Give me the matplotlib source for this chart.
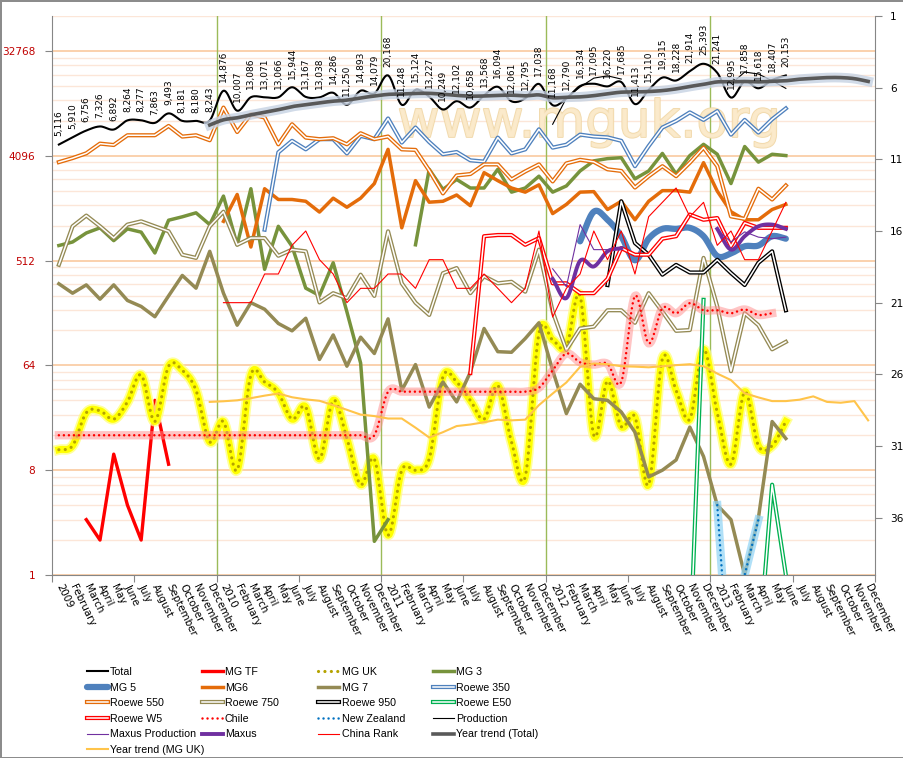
import numpy as np
import matplotlib
matplotlib.use("Agg")
import matplotlib.pyplot as plt
import matplotlib.patheffects as pe
from matplotlib.ticker import NullFormatter

N = np.nan
n_months = 60
years = ["2009", "2010", "2011", "2012", "2013"]
month_names = ["February", "March", "April", "May", "June", "July", "August",
               "September", "October", "November", "December"]
x_labels = []
for yr in years:
    x_labels += [yr] + month_names

# monthly values (first value sits at index "start")
total = (0, [5116, 5910, 6756, 7326, 6892, 8264, 8277, 7863, 9493, 8181, 8180, 8243,
             14876, 10007, 13086, 13071, 13066, 15944, 13167, 13038, 14286, 11250, 14893, 14079,
             20168, 11248, 15124, 13227, 10249, 12102, 10658, 13568, 16094, 12061, 12795, 17038,
             11168, 12790, 16334, 17095, 16220, 17685, 11413, 15110, 19315, 18228, 21914, 25393,
             21241, 12995, 17858, 15618, 18407, 20153])
mg_tf = (2, [3, 2, 11, 4, 2, 32, 9])
mg_uk = (0, [12, 13, 25, 26, 22, 31, 53, 21, 63, 58, 39, 14,
             21, 8, 53, 46, 37, 22, 28, 10, 32, 15, 6, 10,
             2.2, 8, 8, 10, 51, 46, 32, 22, 43, 14, 7, 121,
             106, 92, 254, 16, 47, 19, 23, 6, 73, 39, 22, 88,
             25, 9, 38, 13, 13, 21])
mg3 = (0, [690, 740, 885, 980, 760, 960, 900, 595, 1140, 1220, 1320, 1045,
           1840, 700, 2130, 430, 1010, 680, 296, 256, 490, 185, 67, 1.95,
           3, N, 700, 3130, 2100, 2560, 2160, 2160, 3130, 1990, 2160, 2730,
           1990, 2250, 3030, 3700, 3870, 3940, 2590, 3030, 4290, 2850, 4110, 5140,
           4220, 2360, 4920, 3610, 4220, 4110])
mg5 = (38, [750, 1350, 1150, 830, 515, 790, 960, 960, 980, 830, 560, 590, 680, 690, 830, 790])
mg6 = (12, [1115, 1900, 670, 2130, 1720, 1720, 1660, 1340, 1765, 1475, 1765, 2360,
            4650, 980, 2500, 1630, 1660, 1880, 1520, 2930, 2500, 2160, 1990, 2300,
            1300, 1560, 1990, 2010, 1410, 1660, 1150, 1660, 2050, 2050, 1990, 3570,
            2030, 1350, 1150, 1150, 1410, 1560])
mg7 = (0, [323, 268, 316, 238, 316, 232, 206, 168, 254, 381, 296, 615,
           268, 142, 222, 195, 147, 127, 163, 72, 117, 63, 112, 81,
           161, 39, 65, 28, 46, 31, 56, 133, 84, 83, 109, 149,
           58, 24.6, 44, 33, 32, 25.4, 17, 7, 8, 9.8, 18.8, 10.5,
           4, 3, 1, 3.1, 21, 15])
roewe350 = (15, [945, 4380, 5510, 4650, 5690, 5690, 4290, 6070, 5690,
                 8580, 5320, 7170, 5380, 4220, 4410, 3740, 3650, 5870, 4290, 4650, 6920,
                 4810, 5100, 6230, 6000, 5900, 5510, 3330, 4970, 7170, 8170, 9680, 8340,
                 9940, 6230, 8340, 6490, 8450, 10470])
roewe550 = (0, [3610, 3910, 4300, 5210, 5070, 6150, 6150, 6150, 7400, 5990, 6150, 5570,
                10650, 6560, 9330, 8750, 5140, 7650, 5870, 5690, 5800, 5140, 6400, 5690,
                6000, 4650, 4600, 3060, 1940, 2770, 2850, 3450, 3450, 2560, 3000, 3450,
                2460, 3520, 3780, 3630, 3130, 3030, 2180, 2730, 3330, 2730, 3570, 4810,
                3330, 1230, 1170, 2130, 1720, 2270])
roewe750 = (0, [471, 1010, 1250, 1010, 800, 1045, 1115, 1010, 915, 575, 540, 1010,
                1350, 700, 800, 800, 563, 636, 615, 223, 268, 243, 387, 254,
                915, 326, 222, 174, 398, 441, 268, 375, 326, 336, 276, 636,
                186, 87, 133, 138, 191, 191, 149, 268, 186, 127, 129, 540,
                206, 57, 180, 142, 88, 102])
roewe950 = (40, [315, 1660, 725, 575, 387, 470, 404, 404, 520, 400, 315, 490, 615, 191])
roewe_e50 = (46, [0.2, 235, N, N, N, 0.2, 6, 1])
roewe_w5 = (30, [55, 830, 850, 850, 700, 800, 326, 326, 268, 268, 356, 655,
                 575, 575, 790, 830, 1275, 1150, 1190, 680, 1080, 980, 980, 980])
chile = (0, [16, 16, 16, 16, 16, 16, 16, 16, 16, 16, 16, 16,
             16, 16, 16, 16, 16, 16, 16, 16, 16, 16, 16, 16,
             38, 38, 38, 38, 38, 38, 38, 38, 38, 38, 38, 41,
             58, 81, 68, 65, 66, 46, 254, 99, 199, 180, 220, 191,
             191, 180, 194, 174, 180])
new_zealand = (48, [4, 0.08, 1, 3])
production = (36, [7650, 12850, 16000, 19100, 20000, 18760, N, N, N, N, N, N,
                   N, 16970, 21560, 20730, 18140, 15590])
maxus_prod = (36, [435, 305, 1045, 636, 636, 636, N, N, N, N, N, N,
                   945, 740, 905, 815, 790, 815])
maxus = (36, [356, 243, 510, 455, 615, 655, N, N, N, N, N, N,
              960, 636, 830, 1010, 1045, 960])
china_rank = (12, [21, 21, 21, 19, 19, 17, 16, 18, 19, 21, 20, 20,
                   19, 19, 20, 18, 18, 20, 20, 19, 20, 21, 20, 16,
                   22, 20, 19, 16, 18, 16, 19, 15, 14, 13, 15, 14,
                   17, 16, 18, 18, 16, 14])
trend_total = (11, [7542, 8355, 8697, 9224, 9703, 10217, 10857, 11265, 11696, 12095, 12351, 12911, 13397,
                    13838, 13941, 14111, 14124, 13889, 13569, 13360, 13404, 13555, 13623, 13448, 13694,
                    12944, 13073, 13174, 13496, 13994, 14459, 14522, 14650, 14919, 15433, 16193, 16889,
                    17728, 17745, 17872, 17749, 17931, 18137, 18700, 19000, 19300, 19300, 18900, 17900])
trend_uk = (11, [31, 31.4, 32, 33.4, 35.1, 36.6, 34, 32.6, 31.7, 29.1, 26.5, 24.1, 23.4,
                 22.3, 22.3, 18.6, 15.3, 17, 19.2, 19.8, 20.7, 21.8, 21.5, 21.8, 29.1,
                 36.6, 45.6, 62.1, 66.4, 65.5, 62.9, 62.4, 61.6, 62.9, 64.3, 65.5, 62.9,
                 54.4, 47.8, 36.8, 33.9, 31.5, 31.5, 32.4, 34.6, 31, 30.5, 31.5, 21.5])


def full(s):
    start, vals = s
    out = np.full(n_months, np.nan)
    out[start:start + len(vals)] = vals
    return out


def smooth(y, steps=12):
    # excel style smoothed line (catmull-rom in log space)
    y = np.asarray(y, float)
    ok = ~np.isnan(y)
    xs, ys = [], []
    i = 0
    while i < len(y):
        if not ok[i]:
            i += 1
            continue
        j = i
        while j + 1 < len(y) and ok[j + 1]:
            j += 1
        idx = np.arange(i, j + 1)
        ly = np.log2(y[i:j + 1])
        if len(idx) > 2:
            m = np.gradient(ly)
            t = np.linspace(0, 1, steps, endpoint=False)
            h00 = 2 * t**3 - 3 * t**2 + 1
            h10 = t**3 - 2 * t**2 + t
            h01 = -2 * t**3 + 3 * t**2
            h11 = t**3 - t**2
            for k in range(len(idx) - 1):
                xs.extend(idx[k] + t)
                ys.extend(h00 * ly[k] + h10 * m[k] + h01 * ly[k + 1] + h11 * m[k + 1])
            xs.append(idx[-1])
            ys.append(ly[-1])
        else:
            xs.extend(idx)
            ys.extend(ly)
        xs.append(np.nan)
        ys.append(np.nan)
        i = j + 1
    return np.array(xs), 2.0 ** np.array(ys)


def double(color):
    return dict(color=color, lw=3.0,
                path_effects=[pe.Normal(), pe.Stroke(linewidth=1.1, foreground="white")])


W, H = 904, 758
fig = plt.figure(figsize=(W / 100, H / 100), dpi=100)
fig.patch.set_edgecolor("#8c8c8c")
fig.patch.set_linewidth(2)
ax = fig.add_axes([52 / W, 1 - 575 / H, 823 / W, 559 / H])
ax.set_yscale("log", base=2)
x = np.arange(n_months)
h = {}

# watermark
ax.text(0.6525, (575 - 137) / 559, "www.mguk.org", transform=ax.transAxes, fontsize=37,
        color="#FBEACB", alpha=0.9, ha="center", va="baseline", zorder=1.6,
        path_effects=[pe.withStroke(linewidth=1.3, foreground="#F0D6A4")])

for b in [11.5, 23.5, 35.5, 47.5]:
    ax.axvline(b, color="#9BBB59", lw=1, zorder=1.4)

xs, ys = smooth(full(total))
h["Total"], = ax.plot(xs, ys, color="black", lw=1.5, zorder=2.0)
h["MG TF"], = ax.plot(x, full(mg_tf), color="#FF0000", lw=2.4, zorder=2.1)
xs, ys = smooth(full(mg_uk))
ax.plot(xs, ys, color="#FFFF80", lw=7.5, alpha=0.8, zorder=2.2)
ax.plot(xs, ys, color="#FFFF00", lw=5, zorder=2.2)
h["MG UK"], = ax.plot(xs, ys, color="#B5A300", lw=2.3, ls=(0, (0.01, 2.0)),
                      dash_capstyle="round", zorder=2.25)
h["MG 3"], = ax.plot(x, full(mg3), color="#77933C", lw=2.5, zorder=2.3)
xs, ys = smooth(full(mg5))
h["MG 5"], = ax.plot(xs, ys, color="#4F81BD", lw=4.5, solid_capstyle="round", zorder=2.4)
h["MG6"], = ax.plot(x, full(mg6), color="#E46C0A", lw=2.5, zorder=2.5)
h["MG 7"], = ax.plot(x, full(mg7), color="#948A54", lw=2.5, zorder=2.6)
h["Roewe 350"], = ax.plot(x, full(roewe350), zorder=2.7, **double("#4F81BD"))
h["Roewe 550"], = ax.plot(x, full(roewe550), zorder=2.8, **double("#E46C0A"))
h["Roewe 750"], = ax.plot(x, full(roewe750), zorder=2.9, **double("#948A54"))
h["Roewe 950"], = ax.plot(x, full(roewe950), zorder=3.0, **double("black"))
h["Roewe E50"], = ax.plot(x, full(roewe_e50), zorder=3.1, **double("#00B050"))
h["Roewe W5"], = ax.plot(x, full(roewe_w5), zorder=3.2, **double("#FF0000"))
xs, ys = smooth(full(chile))
ax.plot(xs, ys, color="#FF8C8C", lw=6, alpha=0.5, zorder=3.3)
h["Chile"], = ax.plot(xs, ys, color="#FF0000", lw=1.8, ls=(0, (0.01, 2.0)),
                      dash_capstyle="round", zorder=3.35)
ax.plot(x, full(new_zealand), color="#8FD3F5", lw=6, alpha=0.7, zorder=3.4)
h["New Zealand"], = ax.plot(x, full(new_zealand), color="#0070C0", lw=1.8, ls=(0, (0.01, 2.0)),
                            dash_capstyle="round", zorder=3.45)
h["Production"], = ax.plot(x, full(production), color="black", lw=0.8, zorder=3.5)
h["Maxus Production"], = ax.plot(x, full(maxus_prod), color="#7030A0", lw=0.8, zorder=3.6)
xs, ys = smooth(full(maxus))
h["Maxus"], = ax.plot(xs, ys, color="#7030A0", lw=2.8, zorder=3.7)
xs, ys = smooth(full(trend_total))
ax.plot(xs, ys, color="#C6D2E3", lw=7, alpha=0.8, zorder=3.8)
h["Year trend (Total)"], = ax.plot(xs, ys, color="#595959", lw=2.6, zorder=3.85)
h["Year trend (MG UK)"], = ax.plot(x, full(trend_uk), color="#FFC44A", lw=1.5, zorder=3.9)

for i, v in enumerate(full(total)):
    if np.isnan(v):
        continue
    ax.annotate(f"{int(v):,}", (i, v), xytext=(0, 6), textcoords="offset points",
                rotation=90, ha="center", va="bottom", fontsize=6.5, zorder=12)

ax.set_xlim(-0.5, 59.5)
ax.set_ylim(1, 65536)
ax.set_yticks([1, 8, 64, 512, 4096, 32768])
ax.set_yticklabels(["1", "8", "64", "512", "4096", "32768"])
ax.set_yticks([m * 8**k for k in range(6) for m in range(2, 8) if m * 8**k <= 65536], minor=True)
ax.yaxis.set_minor_formatter(NullFormatter())
ax.tick_params(axis="y", which="major", color="#868686", labelcolor="#C00000",
               length=5, labelsize=7.6, pad=7)
ax.tick_params(axis="y", which="minor", length=0)
ax.grid(axis="y", which="major", color="#F9C9A0", lw=1.2)
ax.grid(axis="y", which="minor", color="#FCE6D8", lw=1)
ax.set_axisbelow(True)

ax.set_xticks(np.arange(-0.5, 60, 6))
ax.set_xticklabels([""] * 11)
ax.set_xticks(x, minor=True)
ax.set_xticklabels(x_labels, minor=True, rotation=-64, ha="left", va="center",
                   rotation_mode="anchor", fontsize=7.4)
ax.tick_params(axis="x", which="major", length=5, color="#868686")
ax.tick_params(axis="x", which="minor", length=0, pad=7)
for s in ["top", "right"]:
    ax.spines[s].set_visible(False)
for s in ["left", "bottom"]:
    ax.spines[s].set_color("#868686")

ax2 = ax.twinx()
h["China Rank"], = ax2.plot(x, full(china_rank), color="#FF0000", lw=0.8)
ax2.set_ylim(40, 1)
ax2.set_yticks([1, 6, 11, 16, 21, 26, 31, 36])
ax2.tick_params(axis="y", color="#868686", length=5, labelsize=7.6, pad=6)
for s in ["top", "left", "bottom"]:
    ax2.spines[s].set_visible(False)
ax2.spines["right"].set_color("#868686")

cols = [["Total", "MG 5", "Roewe 550", "Roewe W5", "Maxus Production", "Year trend (MG UK)"],
        ["MG TF", "MG6", "Roewe 750", "Chile", "Maxus"],
        ["MG UK", "MG 7", "Roewe 950", "New Zealand", "China Rank"],
        ["MG 3", "Roewe 350", "Roewe E50", "Production", "Year trend (Total)"]]
col_x = [86.7, 201.7, 318.3, 432.7]
for cx, names in zip(col_x, cols):
    fig.legend([h[n] for n in names], names, loc="upper left",
               bbox_to_anchor=(cx / W, 1 - 667 / H), frameon=False,
               prop={"family": ["Liberation Sans Narrow", "Liberation Sans"], "size": 7.7},
               handlelength=1.95, handletextpad=0.22, labelspacing=0.52,
               borderpad=0, borderaxespad=0)

fig.savefig("out.png", dpi=100)
